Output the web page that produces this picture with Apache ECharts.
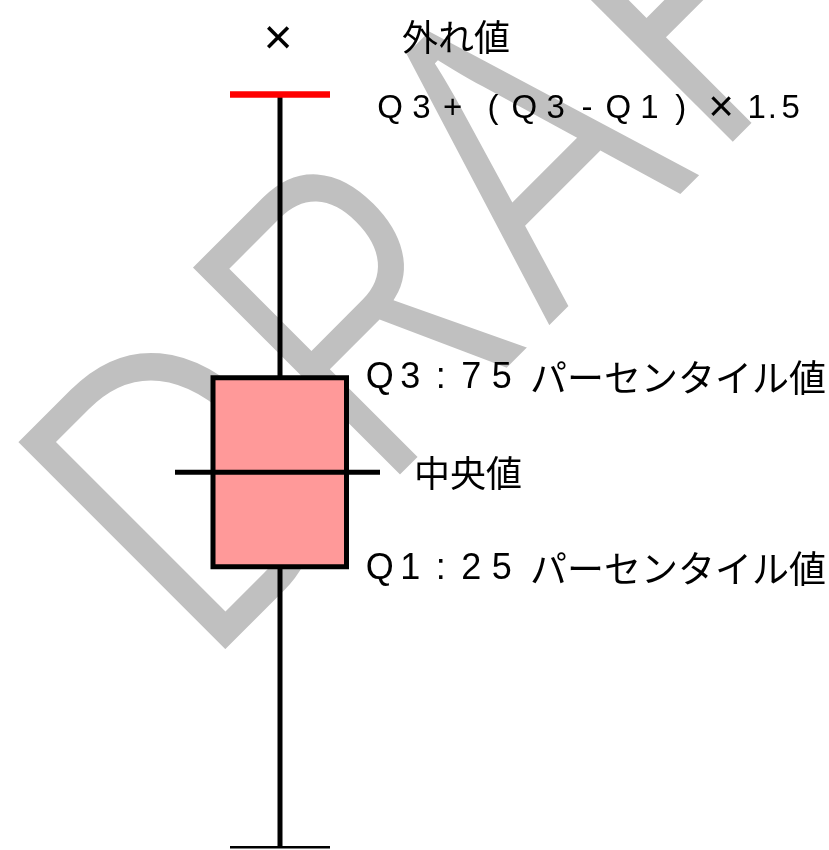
<!DOCTYPE html>
<html>
<head>
<meta charset="utf-8">
<script src="https://cdn.jsdelivr.net/npm/echarts@6/dist/echarts.min.js"></script>
<style>
  html, body { margin: 0; padding: 0; background: #fff; }
  #chart { width: 829px; height: 850px; }
</style>
</head>
<body>
<div id="chart"></div>
<script>
// values
const categories = ['box'];
const lowerWhisker = [10.3];
const q1Values = [40];
const medianValues = [50];
const q3Values = [60];
const upperFence = [90];
const outliers = [95.7];

// texts
const outlierMark = '×';
const outlierText = '外れ値';
const medianText = '中央値';
const watermarkText = 'DRAFT';

const latin = 'Liberation Sans';
const cjk = 'Noto Sans CJK JP';

const cell = (chars, style) => chars.map((c) => `{${style}|${c}}`).join('');

// "Q3 + ( Q3 - Q1 ) × 1.5"
const fenceLabel =
	cell(['Q', '3', '+'], 'f') + '{s9| }' +
	cell(['(', 'Q', '3', '-', 'Q', '1', ')'], 'f') + '{s9| }' +
	'{x|×}{s11| }{d1|1}{d2|.}{d3|5}';
const q3Label = cell(['Q', '3', ':', '7', '5'], 'l') + '{g| }{k|パーセンタイル値}';
const q1Label = cell(['Q', '1', ':', '2', '5'], 'l') + '{g| }{k|パーセンタイル値}';

const fenceRich = {
	f: { fontFamily: latin, fontSize: 33, width: 31.3, align: 'center', color: '#000' },
	x: { fontFamily: latin, fontSize: 44, width: 31.3, align: 'center', color: '#000' },
	s9: { width: 9, align: 'center' },
	s11: { width: 11, align: 'center' },
	d1: { fontFamily: latin, fontSize: 33, width: 18, align: 'center', color: '#000' },
	d2: { fontFamily: latin, fontSize: 33, width: 13, align: 'center', color: '#000' },
	d3: { fontFamily: latin, fontSize: 33, width: 24, align: 'center', color: '#000' },
};
const quartRich = {
	l: { fontFamily: latin, fontSize: 36, width: 30.5, align: 'center', color: '#000' },
	g: { width: 13, align: 'center' },
	k: { fontFamily: cjk, fontSize: 37, align: 'center', color: '#000' },
};

const boxData = categories.map((c, i) => [
	i, lowerWhisker[i], q1Values[i], medianValues[i], q3Values[i], upperFence[i], outliers[i],
]);

function renderBox(params, api) {
	const i = api.value(0);
	const cx = api.coord([i, q1Values[params.dataIndex]])[0];
	const y = (dim) => api.coord([i, api.value(dim)])[1];
	const yLow = y(1), yQ1 = y(2), yMed = y(3), yQ3 = y(4), yHigh = y(5), yOut = y(6);
	const black = { stroke: '#000', lineWidth: 5 };
	return {
		type: 'group',
		children: [
			{ type: 'line', shape: { x1: cx, y1: yQ3, x2: cx, y2: yHigh }, style: black },
			{ type: 'line', shape: { x1: cx, y1: yQ1, x2: cx, y2: yLow }, style: black },
			{
				type: 'rect',
				shape: { x: cx - 67, y: yQ3, width: 133.5, height: yQ1 - yQ3 },
				style: { fill: '#ff9999', stroke: '#000', lineWidth: 5 },
			},
			{ type: 'line', shape: { x1: cx - 105, y1: yMed, x2: cx + 100, y2: yMed }, style: black },
			{
				type: 'line',
				shape: { x1: cx - 50, y1: yHigh, x2: cx + 50, y2: yHigh },
				style: { stroke: '#ff0000', lineWidth: 6.5 },
			},
			{
				type: 'line',
				shape: { x1: cx - 50, y1: yLow, x2: cx + 50, y2: yLow },
				style: { stroke: '#000', lineWidth: 2.5 },
			},
			{
				type: 'text',
				style: {
					x: cx - 2, y: yOut, text: outlierMark, fontFamily: latin, fontSize: 50,
					fill: '#000', align: 'center', verticalAlign: 'middle',
				},
			},
			{
				type: 'text',
				style: {
					x: cx + 122, y: yOut - 3.5, text: outlierText, fontFamily: cjk, fontSize: 36,
					fill: '#000', align: 'left', verticalAlign: 'middle',
				},
			},
			{
				type: 'text',
				style: {
					x: cx + 94.5, y: yHigh + 14, text: fenceLabel, rich: fenceRich,
					align: 'left', verticalAlign: 'middle',
				},
			},
			{
				type: 'text',
				style: {
					x: cx + 84.5, y: yQ3 + 0.5, text: q3Label, rich: quartRich,
					align: 'left', verticalAlign: 'middle',
				},
			},
			{
				type: 'text',
				style: {
					x: cx + 134, y: yMed + 1.5, text: medianText, fontFamily: cjk, fontSize: 36,
					fill: '#000', align: 'left', verticalAlign: 'middle',
				},
			},
			{
				type: 'text',
				style: {
					x: cx + 84.5, y: yQ1 + 2.5, text: q1Label, rich: quartRich,
					align: 'left', verticalAlign: 'middle',
				},
			},
		],
	};
}

// watermark letters, laid along a 45 degree baseline;
// a white outline drawn on top thins the glyph strokes a little
const wmX = [-329.5, -80.5, 154.5, 388, 597];
const wmScale = [0.773, 0.72, 0.76, 0.773, 0.773];
const wmLetter = (ch, k, top) => ({
	type: 'text',
	x: wmX[k],
	y: -118.5,
	scaleX: wmScale[k],
	z2: top ? 2 : 1,
	style: top
		? { text: ch, fontFamily: latin, fontSize: 434, fill: 'none', stroke: '#fff',
			lineWidth: 6, align: 'left', verticalAlign: 'middle' }
		: { text: ch, fontFamily: latin, fontSize: 434, fill: '#c0c0c0',
			align: 'left', verticalAlign: 'middle' },
});
const letters = watermarkText.split('');
const watermark = letters.map((ch, k) => wmLetter(ch, k, false))
	.concat(letters.map((ch, k) => wmLetter(ch, k, true)));

const myChart = echarts.init(document.getElementById('chart'));
const option = {
	animation: false,
	backgroundColor: '#fff',
	grid: { left: 0, width: 560, top: -2.5, bottom: -2.5 },
	xAxis: { type: 'category', data: categories, show: false },
	yAxis: { type: 'value', min: 10, max: 100, show: false },
	graphic: [
		{ type: 'group', x: 438.5, y: 438.5, rotation: Math.PI / 4, z: 0, children: watermark },
	],
	series: [
		{
			type: 'custom',
			z: 10,
			renderItem: renderBox,
			data: boxData,
		},
	],
};
myChart.setOption(option);
</script>
</body>
</html>
